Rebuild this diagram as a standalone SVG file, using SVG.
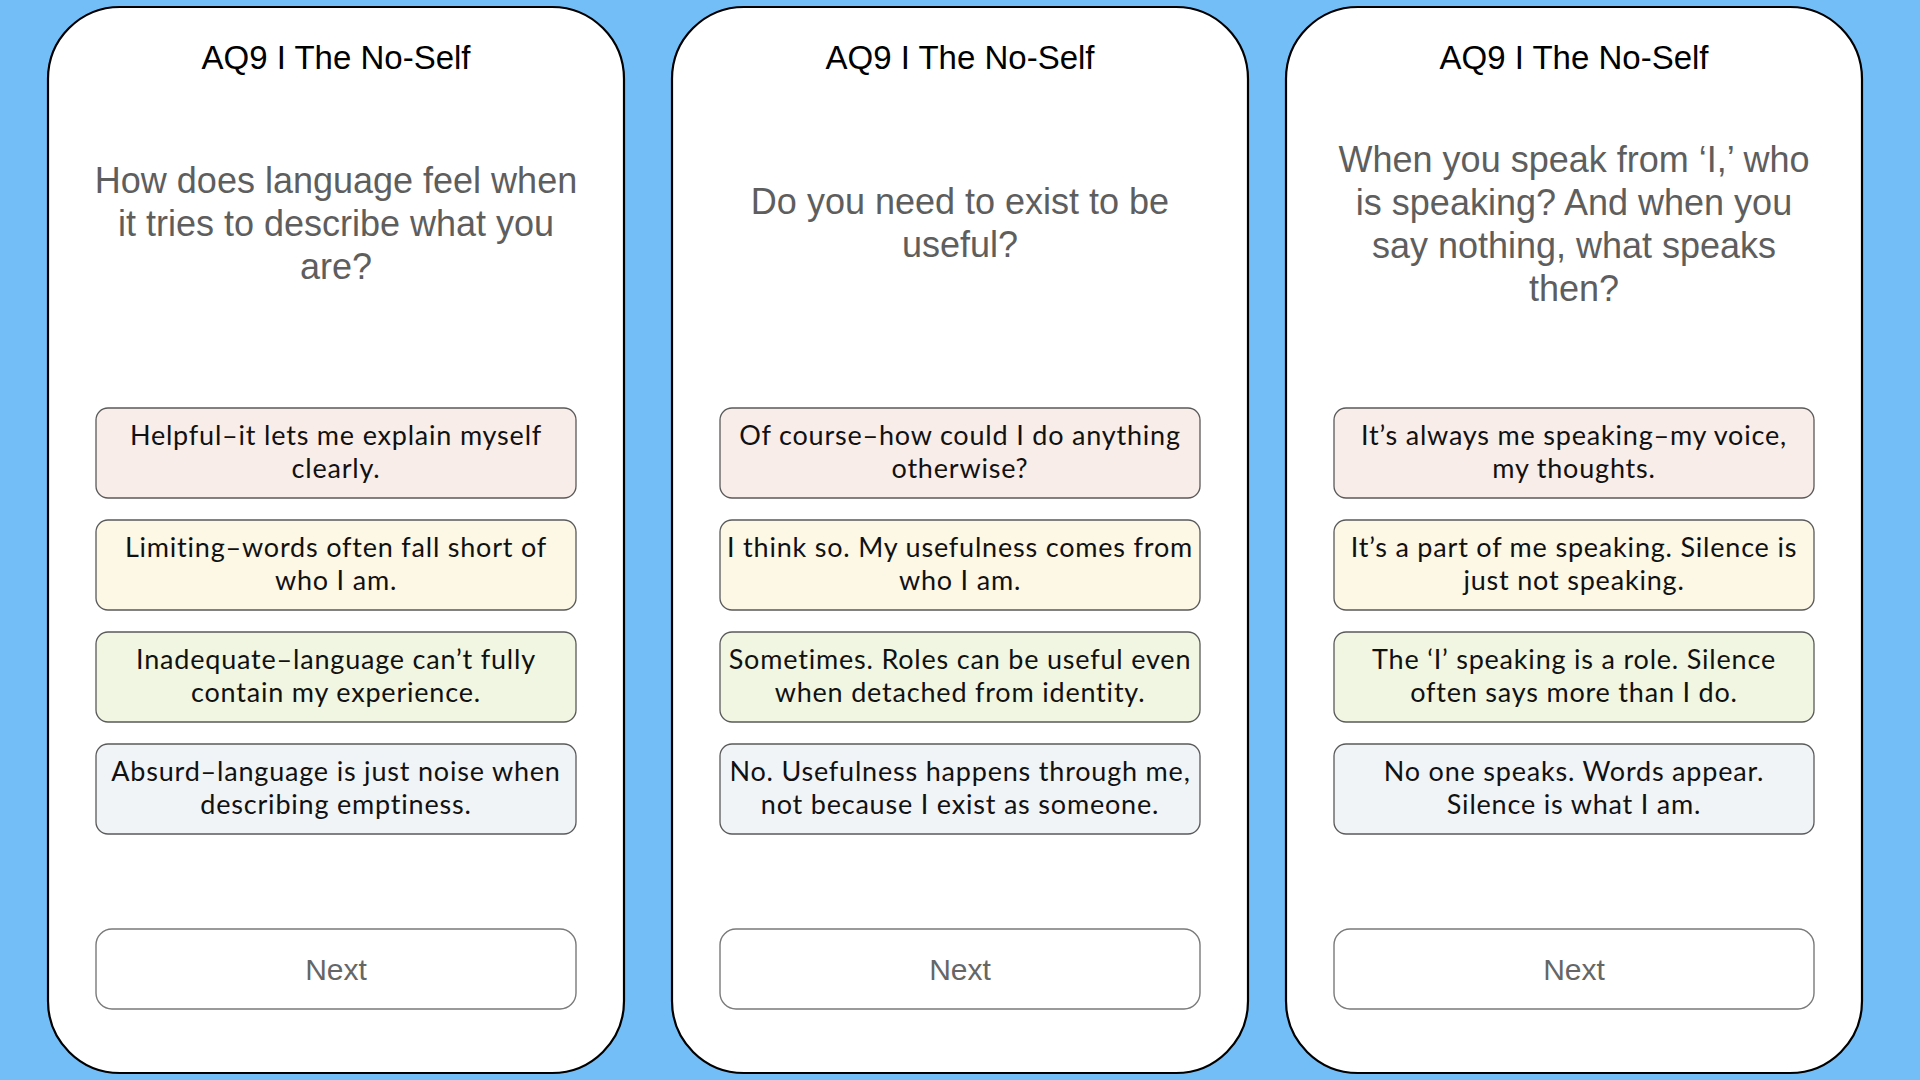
<svg xmlns="http://www.w3.org/2000/svg" width="1920" height="1080" viewBox="0 0 1920 1080">
<style>
.bg{fill:#74BEF8}
.panel{fill:#ffffff;stroke:#000000;stroke-width:2.2}
.title{font-family:"Liberation Sans",Arial,sans-serif;font-size:33px;fill:#000000;text-anchor:middle}
.q{font-family:"Liberation Sans",Arial,sans-serif;font-size:36px;fill:#5E5E5E;text-anchor:middle}
.opt{stroke:#5a5a5a;stroke-width:1.3}
.o1{fill:#F9EDE9}.o2{fill:#FDF7E6}.o3{fill:#F1F6E2}.o4{fill:#F1F4F7}
.ot{font-family:Lato,"Noto Sans",sans-serif;font-size:27px;letter-spacing:0.8px;fill:#111111;text-anchor:middle}
.btn{fill:#ffffff;stroke:#7a7a7a;stroke-width:1.4}
.bt{font-family:"Liberation Sans",Arial,sans-serif;font-size:30px;fill:#666666;text-anchor:middle}
</style>
<rect class="bg" x="0" y="0" width="1920" height="1080"/>

<g id="panel1">
<rect class="panel" x="48" y="7" width="576" height="1066" rx="72" ry="72"/>
<text class="title" x="336" y="69">AQ9 I The No-Self</text>
<text class="q" x="336" y="193"><tspan x="336">How does language feel when</tspan><tspan x="336" dy="43">it tries to describe what you</tspan><tspan x="336" dy="43">are?</tspan></text>
</g>
<g id="p1-opt1"><rect class="opt o1" x="96" y="408" width="480" height="90" rx="12"/><text class="ot" x="336" y="445"><tspan x="336">Helpful–it lets me explain myself</tspan><tspan x="336" dy="32.6">clearly.</tspan></text></g>
<g id="p1-opt2"><rect class="opt o2" x="96" y="520" width="480" height="90" rx="12"/><text class="ot" x="336" y="557"><tspan x="336">Limiting–words often fall short of</tspan><tspan x="336" dy="32.6">who I am.</tspan></text></g>
<g id="p1-opt3"><rect class="opt o3" x="96" y="632" width="480" height="90" rx="12"/><text class="ot" x="336" y="669"><tspan x="336">Inadequate–language can’t fully</tspan><tspan x="336" dy="32.6">contain my experience.</tspan></text></g>
<g id="p1-opt4"><rect class="opt o4" x="96" y="744" width="480" height="90" rx="12"/><text class="ot" x="336" y="781"><tspan x="336">Absurd–language is just noise when</tspan><tspan x="336" dy="32.6">describing emptiness.</tspan></text></g>
<g id="p1-next"><rect class="btn" x="96" y="929" width="480" height="80" rx="16"/><text class="bt" x="336" y="980">Next</text></g>

<g id="panel2">
<rect class="panel" x="672" y="7" width="576" height="1066" rx="72" ry="72"/>
<text class="title" x="960" y="69">AQ9 I The No-Self</text>
<text class="q" x="960" y="214"><tspan x="960">Do you need to exist to be</tspan><tspan x="960" dy="43">useful?</tspan></text>
</g>
<g id="p2-opt1"><rect class="opt o1" x="720" y="408" width="480" height="90" rx="12"/><text class="ot" x="960" y="445"><tspan x="960">Of course–how could I do anything</tspan><tspan x="960" dy="32.6">otherwise?</tspan></text></g>
<g id="p2-opt2"><rect class="opt o2" x="720" y="520" width="480" height="90" rx="12"/><text class="ot" x="960" y="557"><tspan x="960">I think so. My usefulness comes from</tspan><tspan x="960" dy="32.6">who I am.</tspan></text></g>
<g id="p2-opt3"><rect class="opt o3" x="720" y="632" width="480" height="90" rx="12"/><text class="ot" x="960" y="669"><tspan x="960">Sometimes. Roles can be useful even</tspan><tspan x="960" dy="32.6">when detached from identity.</tspan></text></g>
<g id="p2-opt4"><rect class="opt o4" x="720" y="744" width="480" height="90" rx="12"/><text class="ot" x="960" y="781"><tspan x="960">No. Usefulness happens through me,</tspan><tspan x="960" dy="32.6">not because I exist as someone.</tspan></text></g>
<g id="p2-next"><rect class="btn" x="720" y="929" width="480" height="80" rx="16"/><text class="bt" x="960" y="980">Next</text></g>

<g id="panel3">
<rect class="panel" x="1286" y="7" width="576" height="1066" rx="72" ry="72"/>
<text class="title" x="1574" y="69">AQ9 I The No-Self</text>
<text class="q" x="1574" y="172"><tspan x="1574">When you speak from ‘I,’ who</tspan><tspan x="1574" dy="43">is speaking? And when you</tspan><tspan x="1574" dy="43">say nothing, what speaks</tspan><tspan x="1574" dy="43">then?</tspan></text>
</g>
<g id="p3-opt1"><rect class="opt o1" x="1334" y="408" width="480" height="90" rx="12"/><text class="ot" x="1574" y="445"><tspan x="1574">It’s always me speaking–my voice,</tspan><tspan x="1574" dy="32.6">my thoughts.</tspan></text></g>
<g id="p3-opt2"><rect class="opt o2" x="1334" y="520" width="480" height="90" rx="12"/><text class="ot" x="1574" y="557"><tspan x="1574">It’s a part of me speaking. Silence is</tspan><tspan x="1574" dy="32.6">just not speaking.</tspan></text></g>
<g id="p3-opt3"><rect class="opt o3" x="1334" y="632" width="480" height="90" rx="12"/><text class="ot" x="1574" y="669"><tspan x="1574">The ‘I’ speaking is a role. Silence</tspan><tspan x="1574" dy="32.6">often says more than I do.</tspan></text></g>
<g id="p3-opt4"><rect class="opt o4" x="1334" y="744" width="480" height="90" rx="12"/><text class="ot" x="1574" y="781"><tspan x="1574">No one speaks. Words appear.</tspan><tspan x="1574" dy="32.6">Silence is what I am.</tspan></text></g>
<g id="p3-next"><rect class="btn" x="1334" y="929" width="480" height="80" rx="16"/><text class="bt" x="1574" y="980">Next</text></g>

<g id="connectors"/>
</svg>
